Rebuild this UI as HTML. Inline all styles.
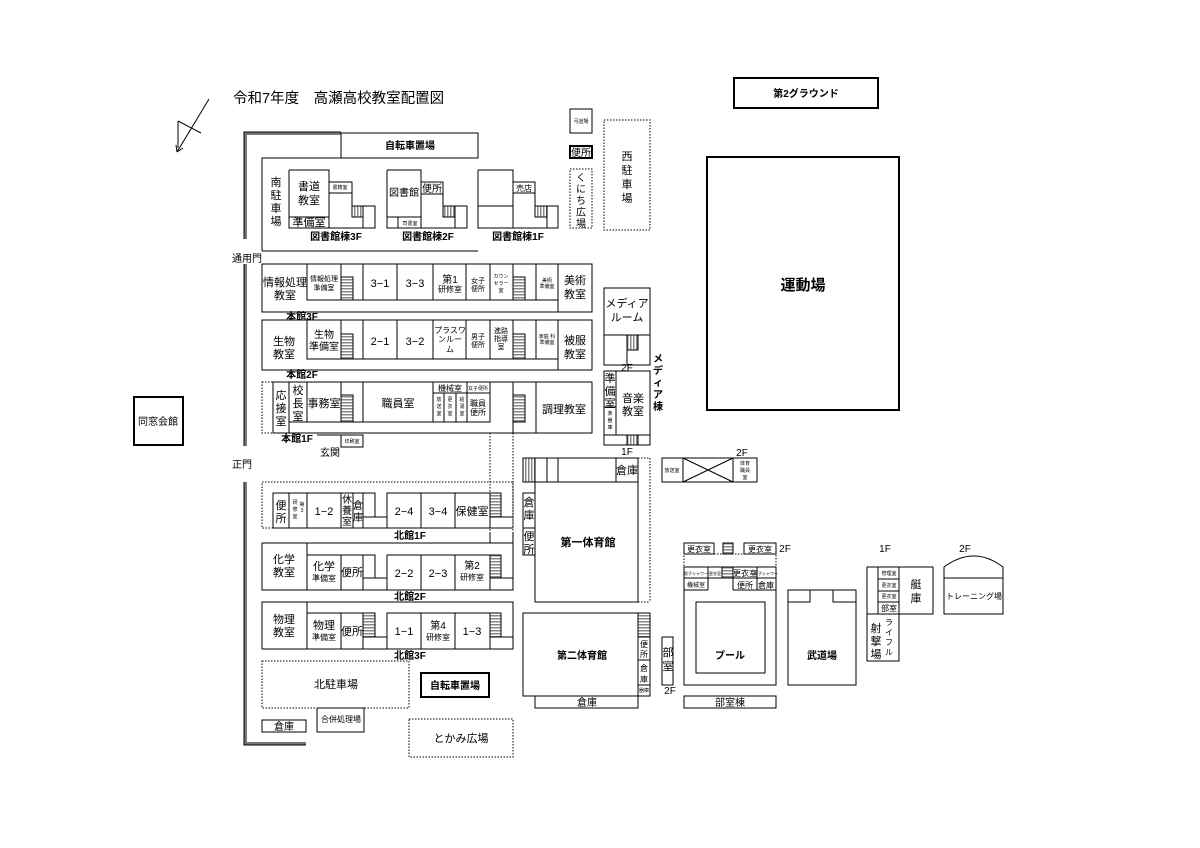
<!DOCTYPE html>
<html><head><meta charset="utf-8"><style>
html,body{margin:0;padding:0;background:#fff;}
svg{display:block;}
text{font-family:"Liberation Sans","Noto Sans CJK JP",sans-serif;fill:#000;}
.r{fill:#fff;stroke:#000;stroke-width:1;}
.n{fill:none;stroke:#000;stroke-width:1;}
.d{fill:none;stroke:#000;stroke-width:1;stroke-dasharray:1.5 1.5;}
.t{font-size:11px;text-anchor:middle;}
.s{font-size:5px;text-anchor:middle;}
.m{font-size:8px;text-anchor:middle;}
.b{font-size:10px;font-weight:bold;text-anchor:middle;}
.st{fill:url(#hs);stroke:#000;stroke-width:1;}
.sv{fill:url(#vs);stroke:#000;stroke-width:1;}
</style></head><body>
<svg width="1200" height="848" viewBox="0 0 1200 848" xmlns="http://www.w3.org/2000/svg">
<defs>
<pattern id="hs" width="4" height="3" patternUnits="userSpaceOnUse"><rect width="4" height="3" fill="#fff"/><rect width="4" height="1.5" fill="#888"/></pattern>
<pattern id="vs" width="3" height="4" patternUnits="userSpaceOnUse"><rect width="3" height="4" fill="#fff"/><rect width="1.5" height="4" fill="#888"/></pattern>
</defs>
<rect width="1200" height="848" fill="#fff"/>

<!-- title & arrow -->
<text x="233" y="103" style="font-size:14.5px">令和7年度　高瀬高校教室配置図</text>
<line x1="209" y1="99" x2="177" y2="152" stroke="#000"/>
<line x1="178" y1="121" x2="178" y2="148" stroke="#000"/>
<line x1="178" y1="121" x2="201" y2="133" stroke="#000"/>
<line x1="177" y1="152" x2="176" y2="145" stroke="#000"/>
<line x1="177" y1="152" x2="183" y2="148" stroke="#000"/>

<!-- boundary double lines -->
<polyline points="245.5,239 245.5,133.5 341,133.5" fill="none" stroke="#777" stroke-width="3"/>
<polyline points="244,239 244,132 341,132" fill="none" stroke="#000" stroke-width="1"/>
<line x1="245.5" y1="264" x2="245.5" y2="446" stroke="#777" stroke-width="3"/>
<line x1="244" y1="264" x2="244" y2="446" stroke="#000" stroke-width="1"/>
<polyline points="245.5,482 245.5,743.5 306,743.5" fill="none" stroke="#777" stroke-width="3"/>
<polyline points="244,482 244,745 306,745" fill="none" stroke="#000" stroke-width="1"/>
<polyline points="262,251 262,158 478,158" class="n"/>
<line x1="262" y1="251" x2="478" y2="251" stroke="#000"/>
<text x="232" y="262" style="font-size:10px">通用門</text>
<text x="232" y="468" style="font-size:10px">正門</text>

<!-- bike parking top -->
<rect x="341" y="133" width="137" height="25" class="r"/>
<text x="410" y="149" class="b">自転車置場</text>

<!-- 南駐車場 -->
<text class="t" x="276" y="186">南</text><text class="t" x="276" y="199">駐</text><text class="t" x="276" y="212">車</text><text class="t" x="276" y="225">場</text>

<!-- library 3F -->
<polyline points="289,170 329,170 329,182 352,182 352,206 375,206 375,228 289,228 289,170" class="r"/>
<line x1="289" y1="217" x2="329" y2="217" stroke="#000"/><line x1="329" y1="170" x2="329" y2="228" stroke="#000"/>
<rect x="329" y="182" width="23" height="11" class="r"/><text class="s" x="340" y="189">書籍室</text>
<rect x="352" y="206" width="11" height="11" class="sv"/><line x1="363" y1="206" x2="363" y2="228" stroke="#000"/>
<text class="t" x="309" y="190">書道</text><text class="t" x="309" y="204">教室</text>
<text class="t" x="309" y="226">準備室</text>
<text class="b" x="336" y="240">図書館棟3F</text>
<!-- library 2F -->
<polyline points="387,170 421,170 421,182 443,182 443,206 467,206 467,228 387,228 387,170" class="r"/>
<line x1="387" y1="217" x2="421" y2="217" stroke="#000"/><line x1="421" y1="170" x2="421" y2="228" stroke="#000"/><line x1="398" y1="217" x2="398" y2="228" stroke="#000"/>
<rect x="421" y="182" width="22" height="12" class="r"/><text class="t" x="432" y="192" style="font-size:10px">便所</text>
<text class="t" x="404" y="196" style="font-size:10px">図書館</text>
<text class="s" x="410" y="225">司書室</text>
<rect x="443" y="206" width="12" height="11" class="sv"/><line x1="455" y1="206" x2="455" y2="228" stroke="#000"/>
<text class="b" x="428" y="240">図書館棟2F</text>
<!-- library 1F -->
<polyline points="478,170 513,170 513,182 535,182 535,206 558,206 558,228 478,228 478,170" class="r"/>
<line x1="478" y1="206" x2="513" y2="206" stroke="#000"/><line x1="513" y1="170" x2="513" y2="228" stroke="#000"/>
<rect x="513" y="182" width="22" height="11" class="r"/><text class="m" x="524" y="191">売店</text>
<rect x="535" y="206" width="12" height="11" class="sv"/><line x1="547" y1="206" x2="547" y2="228" stroke="#000"/>
<text class="b" x="518" y="240">図書館棟1F</text>

<!-- right top small -->
<rect x="570" y="109" width="22" height="24" class="r"/><text class="s" x="581" y="123">弓道場</text>
<rect x="570" y="146" width="22" height="12" fill="#fff" stroke="#000" stroke-width="2"/><text class="t" x="581" y="156" style="font-size:10px">便所</text>
<rect x="570" y="169" width="22" height="59" class="d"/>
<text class="t" x="581" y="181" style="font-size:10px">く</text><text class="t" x="581" y="192.5" style="font-size:10px">に</text><text class="t" x="581" y="204" style="font-size:10px">ち</text><text class="t" x="581" y="215.5" style="font-size:10px">広</text><text class="t" x="581" y="227" style="font-size:10px">場</text>
<rect x="604" y="120" width="46" height="110" class="d"/>
<text class="t" x="627" y="160">西</text><text class="t" x="627" y="174">駐</text><text class="t" x="627" y="188">車</text><text class="t" x="627" y="202">場</text>

<!-- 本館3F -->
<rect x="262" y="264" width="330" height="48" class="r"/>
<polyline points="307,264 307,300 558,300" class="n"/><line x1="558" y1="264" x2="558" y2="312" stroke="#000"/>
<line x1="341" y1="264" x2="341" y2="300" stroke="#000"/><line x1="363" y1="264" x2="363" y2="300" stroke="#000"/>
<line x1="397" y1="264" x2="397" y2="300" stroke="#000"/><line x1="433" y1="264" x2="433" y2="300" stroke="#000"/>
<line x1="466" y1="264" x2="466" y2="300" stroke="#000"/><line x1="490" y1="264" x2="490" y2="300" stroke="#000"/>
<line x1="513" y1="264" x2="513" y2="300" stroke="#000"/><line x1="536" y1="264" x2="536" y2="300" stroke="#000"/>
<line x1="341" y1="277" x2="353" y2="277" stroke="#000"/><line x1="513" y1="277" x2="525" y2="277" stroke="#000"/>
<rect x="341" y="277" width="12" height="23" class="st"/><rect x="513" y="277" width="12" height="23" class="st"/>
<text class="t" x="285" y="286">情報処理</text><text class="t" x="285" y="299">教室</text>
<text class="s" x="324" y="281" style="font-size:7px">情報処理</text><text class="s" x="324" y="290" style="font-size:7px">準備室</text>
<text class="t" x="380" y="287">3−1</text><text class="t" x="415" y="287">3−3</text>
<text class="t" x="450" y="283" style="font-size:10px">第1</text><text class="m" x="450" y="292">研修室</text>
<text class="s" x="478" y="283" style="font-size:7px">女子</text><text class="s" x="478" y="291" style="font-size:7px">便所</text>
<text class="s" x="501" y="278">カウン</text><text class="s" x="501" y="285">セラー</text><text class="s" x="501" y="292">室</text>
<text class="s" x="547" y="282">美術</text><text class="s" x="547" y="288">準備室</text>
<text class="t" x="575" y="284">美術</text><text class="t" x="575" y="298">教室</text>
<text class="b" x="302" y="320">本館3F</text>

<!-- 本館2F -->
<rect x="262" y="320" width="330" height="50" class="r"/>
<polyline points="307,320 307,359 558,359" class="n"/><line x1="558" y1="320" x2="558" y2="370" stroke="#000"/>
<line x1="341" y1="320" x2="341" y2="359" stroke="#000"/><line x1="363" y1="320" x2="363" y2="359" stroke="#000"/>
<line x1="397" y1="320" x2="397" y2="359" stroke="#000"/><line x1="433" y1="320" x2="433" y2="359" stroke="#000"/>
<line x1="466" y1="320" x2="466" y2="359" stroke="#000"/><line x1="490" y1="320" x2="490" y2="359" stroke="#000"/>
<line x1="513" y1="320" x2="513" y2="359" stroke="#000"/><line x1="536" y1="320" x2="536" y2="359" stroke="#000"/>
<line x1="341" y1="334" x2="353" y2="334" stroke="#000"/><line x1="513" y1="334" x2="525" y2="334" stroke="#000"/>
<rect x="341" y="334" width="12" height="25" class="st"/><rect x="513" y="334" width="12" height="25" class="st"/>
<text class="t" x="284" y="345">生物</text><text class="t" x="284" y="358">教室</text>
<text class="t" x="324" y="338" style="font-size:10px">生物</text><text class="t" x="324" y="350" style="font-size:10px">準備室</text>
<text class="t" x="380" y="345">2−1</text><text class="t" x="415" y="345">3−2</text>
<text class="m" x="450" y="333">プラスワ</text><text class="m" x="450" y="342">ンルー</text><text class="m" x="450" y="352">ム</text>
<text class="s" x="478" y="339" style="font-size:7px">男子</text><text class="s" x="478" y="347" style="font-size:7px">便所</text>
<text class="s" x="501" y="333" style="font-size:7px">進路</text><text class="s" x="501" y="341" style="font-size:7px">指導</text><text class="s" x="501" y="349" style="font-size:7px">室</text>
<text class="s" x="547" y="338">家庭 科</text><text class="s" x="547" y="344">準備室</text>
<text class="t" x="575" y="344">被服</text><text class="t" x="575" y="358">教室</text>
<text class="b" x="302" y="378">本館2F</text>

<!-- 本館1F -->
<rect x="262" y="382" width="11" height="51" class="d"/>
<rect x="273" y="382" width="319" height="51" class="r"/>
<line x1="289" y1="382" x2="289" y2="433" stroke="#000"/>
<polyline points="289,422 490,422 490,382" class="n"/>
<line x1="307" y1="382" x2="307" y2="422" stroke="#000"/><line x1="341" y1="382" x2="341" y2="422" stroke="#000"/>
<line x1="363" y1="382" x2="363" y2="422" stroke="#000"/><line x1="433" y1="382" x2="433" y2="422" stroke="#000"/>
<line x1="467" y1="382" x2="467" y2="422" stroke="#000"/><line x1="513" y1="382" x2="513" y2="433" stroke="#000"/>
<line x1="536" y1="382" x2="536" y2="433" stroke="#000"/>
<line x1="433" y1="393" x2="490" y2="393" stroke="#000"/>
<line x1="444" y1="393" x2="444" y2="422" stroke="#000"/><line x1="456" y1="393" x2="456" y2="422" stroke="#000"/>
<line x1="341" y1="395" x2="353" y2="395" stroke="#000"/><line x1="513" y1="395" x2="525" y2="395" stroke="#000"/>
<rect x="341" y="395" width="12" height="27" class="st"/><rect x="513" y="395" width="12" height="27" class="st"/>
<text class="t" x="281" y="399">応</text><text class="t" x="281" y="412">接</text><text class="t" x="281" y="425">室</text>
<text class="t" x="298" y="394">校</text><text class="t" x="298" y="407">長</text><text class="t" x="298" y="420">室</text>
<text class="t" x="324" y="407">事務室</text>
<text class="t" x="398" y="407">職員室</text>
<text class="m" x="450" y="391">機械室</text>
<text class="s" x="478" y="390">女子便所</text>
<text class="s" x="439" y="401">放</text><text class="s" x="439" y="408">送</text><text class="s" x="439" y="415">室</text>
<text class="s" x="450" y="401">更</text><text class="s" x="450" y="408">衣</text><text class="s" x="450" y="415">室</text>
<text class="s" x="462" y="401">給</text><text class="s" x="462" y="408">湯</text><text class="s" x="462" y="415">室</text>
<text class="m" x="478" y="406">職員</text><text class="m" x="478" y="415">便所</text>
<text class="t" x="564" y="413">調理教室</text>
<polyline points="317,435 341,435 341,447" class="n"/>
<rect x="341" y="435" width="22" height="12" class="r"/><text class="s" x="352" y="443">印刷室</text>
<text class="b" x="297" y="442">本館1F</text>
<text class="t" x="330" y="456" style="font-size:10px">玄関</text>
<line x1="490" y1="433" x2="490" y2="543" class="d"/><line x1="513" y1="433" x2="513" y2="543" class="d"/>

<!-- 北館1F -->
<rect x="262" y="482" width="251" height="46" class="d"/>
<polyline points="273,528 273,493 375,493 375,517 387,517 387,493 501,493 501,517 513,517" class="n"/>
<line x1="273" y1="528" x2="513" y2="528" stroke="#000"/>
<line x1="289" y1="493" x2="289" y2="528" stroke="#000"/><line x1="307" y1="493" x2="307" y2="528" stroke="#000"/>
<line x1="341" y1="493" x2="341" y2="528" stroke="#000"/><line x1="353" y1="493" x2="353" y2="528" stroke="#000"/>
<line x1="363" y1="493" x2="363" y2="528" stroke="#000"/><line x1="363" y1="517" x2="375" y2="517" stroke="#000"/>
<line x1="387" y1="493" x2="387" y2="528" stroke="#000"/><line x1="421" y1="493" x2="421" y2="528" stroke="#000"/>
<line x1="455" y1="493" x2="455" y2="528" stroke="#000"/><line x1="490" y1="493" x2="490" y2="528" stroke="#000"/>
<rect x="490" y="493" width="11" height="24" class="st"/>
<text class="t" x="281" y="509">便</text><text class="t" x="281" y="522">所</text>
<text class="s" x="295" y="504">研</text><text class="s" x="295" y="511">修</text><text class="s" x="295" y="518">室</text><text class="s" x="302" y="506">第</text><text class="s" x="302" y="512">3</text>
<text class="t" x="324" y="515">1−2</text>
<text class="t" x="347" y="503" style="font-size:10px">休</text><text class="t" x="347" y="514" style="font-size:10px">養</text><text class="t" x="347" y="525" style="font-size:10px">室</text>
<text class="t" x="358" y="509" style="font-size:10px">倉</text><text class="t" x="358" y="521" style="font-size:10px">庫</text>
<text class="t" x="404" y="515">2−4</text><text class="t" x="438" y="515">3−4</text><text class="t" x="472" y="515">保健室</text>
<text class="b" x="410" y="539">北館1F</text>
<line x1="490" y1="533" x2="490" y2="543" stroke="#000"/><line x1="513" y1="533" x2="513" y2="543" stroke="#000"/>

<!-- 北館2F -->
<rect x="262" y="543" width="251" height="47" class="r"/>
<polyline points="307,590 307,555 375,555 375,578 387,578 387,555 501,555 501,578 513,578" class="n"/>
<line x1="307" y1="543" x2="307" y2="555" stroke="#000"/>
<line x1="341" y1="555" x2="341" y2="590" stroke="#000"/><line x1="363" y1="555" x2="363" y2="590" stroke="#000"/>
<line x1="363" y1="578" x2="387" y2="578" stroke="#000"/>
<line x1="387" y1="555" x2="387" y2="590" stroke="#000"/><line x1="421" y1="555" x2="421" y2="590" stroke="#000"/>
<line x1="455" y1="555" x2="455" y2="590" stroke="#000"/><line x1="490" y1="555" x2="490" y2="590" stroke="#000"/>
<rect x="490" y="555" width="11" height="23" class="st"/>
<text class="t" x="284" y="563">化学</text><text class="t" x="284" y="576">教室</text>
<text class="t" x="324" y="570">化学</text><text class="m" x="324" y="581">準備室</text>
<text class="t" x="352" y="576">便所</text>
<text class="t" x="404" y="577">2−2</text><text class="t" x="438" y="577">2−3</text>
<text class="t" x="472" y="569" style="font-size:10px">第2</text><text class="m" x="472" y="580">研修室</text>
<text class="b" x="410" y="600">北館2F</text>

<!-- 北館3F -->
<rect x="262" y="602" width="251" height="47" class="r"/>
<polyline points="307,649 307,613 363,613 363,637 387,637 387,613 501,613 501,637 513,637" class="n"/>
<line x1="307" y1="602" x2="307" y2="613" stroke="#000"/>
<line x1="341" y1="613" x2="341" y2="649" stroke="#000"/><line x1="363" y1="613" x2="363" y2="649" stroke="#000"/>
<line x1="387" y1="613" x2="387" y2="649" stroke="#000"/><line x1="421" y1="613" x2="421" y2="649" stroke="#000"/>
<line x1="455" y1="613" x2="455" y2="649" stroke="#000"/><line x1="490" y1="613" x2="490" y2="649" stroke="#000"/>
<rect x="363" y="613" width="12" height="24" class="st"/><rect x="490" y="613" width="11" height="24" class="st"/>
<text class="t" x="284" y="623">物理</text><text class="t" x="284" y="636">教室</text>
<text class="t" x="324" y="629">物理</text><text class="m" x="324" y="640">準備室</text>
<text class="t" x="352" y="635">便所</text>
<text class="t" x="404" y="635">1−1</text>
<text class="t" x="438" y="629" style="font-size:10px">第4</text><text class="m" x="438" y="640">研修室</text>
<text class="t" x="472" y="635">1−3</text>
<text class="b" x="410" y="659">北館3F</text>

<!-- bottom left -->
<rect x="262" y="661" width="147" height="47" class="d"/><text class="t" x="336" y="688">北駐車場</text>
<rect x="421" y="673" width="68" height="24" fill="#fff" stroke="#000" stroke-width="2"/><text class="b" x="455" y="689">自転車置場</text>
<rect x="262" y="720" width="44" height="12" class="r"/><text class="t" x="284" y="730" style="font-size:10px">倉庫</text>
<rect x="317" y="708" width="47" height="24" class="r"/><text class="m" x="341" y="722">合併処理場</text>
<rect x="409" y="719" width="104" height="38" class="d"/><text class="t" x="461" y="742">とかみ広場</text>

<!-- 同窓会館 -->
<rect x="134" y="397" width="49" height="48" fill="#fff" stroke="#000" stroke-width="2"/><text class="t" x="158" y="425" style="font-size:10px">同窓会館</text>

<!-- Media building -->
<rect x="604" y="288" width="46" height="77" class="r"/>
<line x1="604" y1="335" x2="650" y2="335" stroke="#000"/>
<polyline points="627,335 627,350 638,350 638,335" class="n"/><line x1="627" y1="350" x2="627" y2="365" stroke="#000"/>
<rect x="627" y="335" width="11" height="15" class="sv"/>
<text class="t" x="627" y="307">メディア</text><text class="t" x="627" y="321">ルーム</text>
<text class="t" x="627" y="371" style="font-size:10px">2F</text>
<rect x="604" y="371" width="46" height="74" class="r"/>
<line x1="616" y1="371" x2="616" y2="435" stroke="#000"/><line x1="604" y1="435" x2="650" y2="435" stroke="#000"/>
<line x1="604" y1="407" x2="616" y2="407" stroke="#000"/>
<rect x="627" y="435" width="11" height="10" class="sv"/>
<text class="t" x="610" y="382">準</text><text class="t" x="610" y="395">備</text><text class="t" x="610" y="407">室</text>
<text class="s" x="610" y="415">楽</text><text class="s" x="610" y="422">器</text><text class="s" x="610" y="429">庫</text>
<text class="t" x="633" y="402">音楽</text><text class="t" x="633" y="415">教室</text>
<text class="t" x="627" y="455" style="font-size:10px">1F</text>
<text class="b" x="658" y="362">メ</text><text class="b" x="658" y="374">デ</text><text class="b" x="658" y="386">ィ</text><text class="b" x="658" y="398">ア</text><text class="b" x="658" y="410">棟</text>

<!-- field -->
<rect x="734" y="78" width="144" height="30" fill="#fff" stroke="#000" stroke-width="2"/><text class="b" x="806" y="97">第2グラウンド</text>
<rect x="707" y="157" width="192" height="253" fill="#fff" stroke="#000" stroke-width="2"/>
<text x="803" y="290" style="font-size:15px;font-weight:bold;text-anchor:middle">運動場</text>

<!-- gym 1 -->
<rect x="523" y="458" width="115" height="24" class="r"/>
<rect x="523" y="458" width="12" height="24" class="sv"/>
<line x1="547" y1="458" x2="547" y2="482" stroke="#000"/><line x1="558" y1="458" x2="558" y2="482" stroke="#000"/>
<line x1="616" y1="458" x2="616" y2="482" stroke="#000"/>
<text class="t" x="627" y="474">倉庫</text>
<line x1="650" y1="458" x2="650" y2="602" class="d"/><line x1="638" y1="458" x2="650" y2="458" class="d"/><line x1="638" y1="602" x2="650" y2="602" class="d"/>
<rect x="535" y="482" width="103" height="120" class="r"/>
<text class="b" x="588" y="546" style="font-size:11px">第一体育館</text>
<rect x="523" y="493" width="12" height="62" class="r"/><line x1="523" y1="528" x2="535" y2="528" stroke="#000"/>
<text class="t" x="529" y="506">倉</text><text class="t" x="529" y="519">庫</text><text class="t" x="529" y="540">便</text><text class="t" x="529" y="553">所</text>

<!-- 放送室 -->
<rect x="662" y="458" width="95" height="24" class="r"/>
<line x1="683" y1="458" x2="683" y2="482" stroke="#000"/><line x1="733" y1="458" x2="733" y2="482" stroke="#000"/>
<line x1="683" y1="458" x2="733" y2="482" stroke="#000"/><line x1="683" y1="482" x2="733" y2="458" stroke="#000"/>
<text class="s" x="672" y="472">放送室</text>
<text class="s" x="745" y="465">体育</text><text class="s" x="745" y="472">職員</text><text class="s" x="745" y="479">室</text>
<text class="t" x="742" y="456" style="font-size:10px">2F</text>

<!-- gym 2 -->
<rect x="523" y="613" width="127" height="83" class="r"/>
<line x1="638" y1="613" x2="638" y2="696" stroke="#000"/>
<rect x="638" y="613" width="12" height="24" class="st"/>
<line x1="638" y1="660" x2="650" y2="660" stroke="#000"/><line x1="638" y1="685" x2="650" y2="685" stroke="#000"/>
<text class="m" x="644" y="647">便</text><text class="m" x="644" y="657">所</text><text class="m" x="644" y="671">倉</text><text class="m" x="644" y="682">庫</text>
<text class="s" x="644" y="692">器庫</text>
<text class="b" x="582" y="659">第二体育館</text>
<rect x="535" y="696" width="103" height="12" class="r"/><text class="t" x="587" y="706" style="font-size:10px">倉庫</text>
<rect x="662" y="637" width="11" height="48" class="r"/>
<text class="t" x="668" y="656">部</text><text class="t" x="668" y="670">室</text>
<text class="t" x="670" y="694" style="font-size:10px">2F</text>

<!-- pool -->
<rect x="684" y="543" width="30" height="11" class="r"/><text class="m" x="699" y="552">更衣室</text>
<rect x="723" y="543" width="10" height="11" class="st"/>
<rect x="744" y="543" width="32" height="11" class="r"/><text class="m" x="760" y="552">更衣室</text>
<text class="t" x="785" y="552" style="font-size:10px">2F</text>
<rect x="684" y="554" width="92" height="13" class="d"/>
<rect x="684" y="567" width="92" height="118" class="r"/>
<line x1="684" y1="578" x2="776" y2="578" stroke="#000"/>
<line x1="708" y1="567" x2="708" y2="590" stroke="#000"/><line x1="722" y1="567" x2="722" y2="578" stroke="#000"/>
<line x1="733" y1="567" x2="733" y2="590" stroke="#000"/><line x1="757" y1="567" x2="757" y2="590" stroke="#000"/>
<line x1="684" y1="590" x2="708" y2="590" stroke="#000"/><line x1="733" y1="590" x2="776" y2="590" stroke="#000"/>
<rect x="722" y="567" width="11" height="11" class="st"/>
<text class="s" x="696" y="575" style="font-size:4px">男子シャワー</text><text class="s" x="715" y="575" style="font-size:4px">更衣室</text>
<text class="m" x="745" y="576">更衣室</text><text class="s" x="766" y="575" style="font-size:4px">女子シャワー</text>
<text class="s" x="696" y="587" style="font-size:6px">機械室</text>
<text class="m" x="745" y="588">便所</text><text class="m" x="766" y="588">倉庫</text>
<rect x="696" y="602" width="69" height="71" class="r"/>
<text class="b" x="730" y="659">プール</text>
<rect x="684" y="696" width="92" height="12" class="r"/><text class="t" x="730" y="706" style="font-size:10px">部室棟</text>

<!-- 武道場 -->
<rect x="788" y="590" width="68" height="95" class="r"/>
<polyline points="788,602 810,602 810,590" class="n"/><polyline points="833,590 833,602 856,602" class="n"/>
<text class="b" x="822" y="659">武道場</text>

<!-- rifle -->
<text class="t" x="885" y="552" style="font-size:10px">1F</text>
<rect x="867" y="567" width="66" height="47" class="r"/>
<line x1="878" y1="567" x2="878" y2="614" stroke="#000"/><line x1="899" y1="567" x2="899" y2="614" stroke="#000"/>
<line x1="878" y1="579" x2="899" y2="579" stroke="#000"/><line x1="878" y1="591" x2="899" y2="591" stroke="#000"/><line x1="878" y1="602" x2="899" y2="602" stroke="#000"/>
<text class="s" x="889" y="575">管理室</text><text class="s" x="889" y="587">更衣室</text><text class="s" x="889" y="598">更衣室</text>
<text class="m" x="889" y="611">部室</text>
<text class="t" x="916" y="588">艇</text><text class="t" x="916" y="602">庫</text>
<rect x="867" y="614" width="32" height="47" class="r"/>
<text class="t" x="876" y="632">射</text><text class="t" x="876" y="645">撃</text><text class="t" x="876" y="658">場</text>
<text class="m" x="889" y="625">ラ</text><text class="m" x="889" y="635">イ</text><text class="m" x="889" y="645">フ</text><text class="m" x="889" y="655">ル</text>
<!-- training -->
<text class="t" x="965" y="552" style="font-size:10px">2F</text>
<path d="M944,578 L944,567 Q974,545 1003,567 L1003,578" class="n"/>
<rect x="944" y="578" width="59" height="36" class="r"/>
<text class="m" x="974" y="599">トレーニング場</text>
</svg>
</body></html>
